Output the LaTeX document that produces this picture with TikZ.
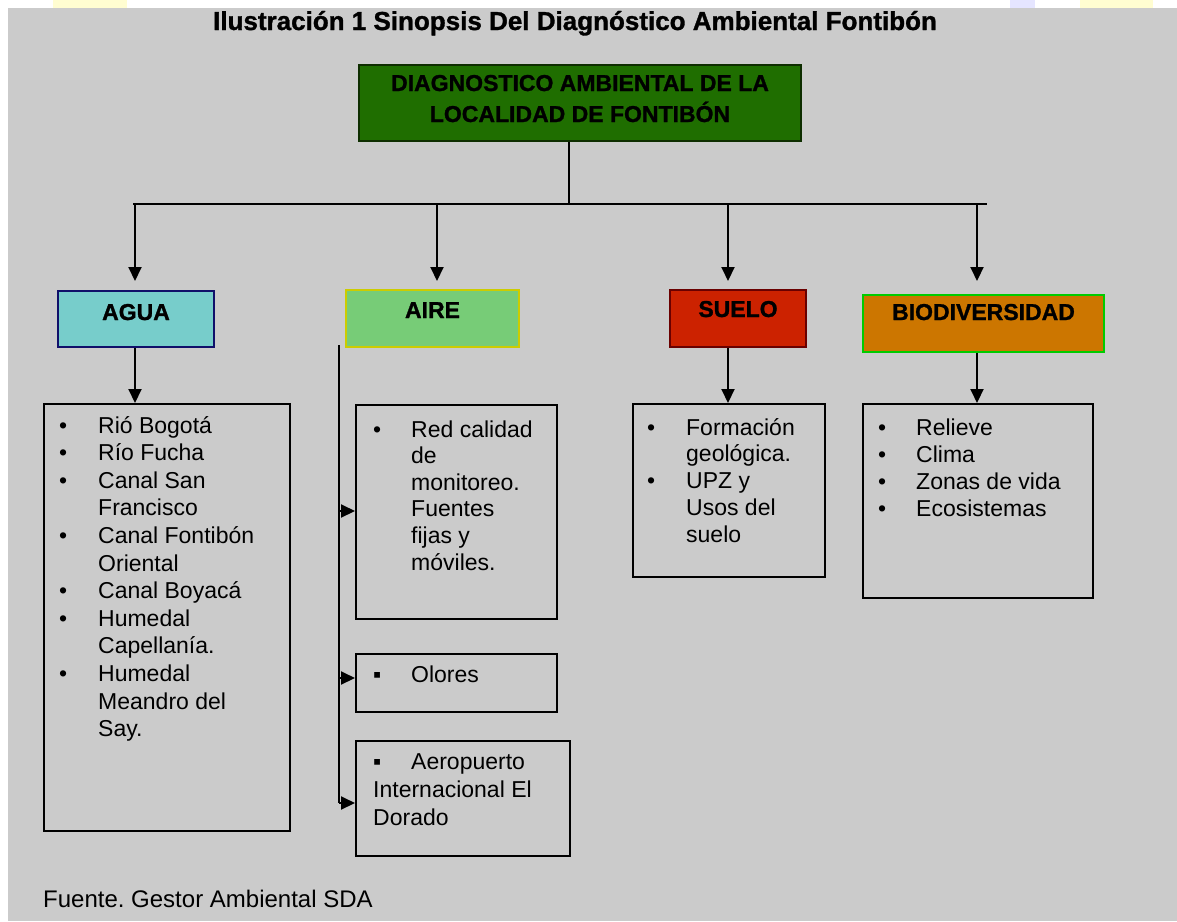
\documentclass[tikz,border=0pt]{standalone}
\usepackage{fontspec}
\setmainfont{Liberation Sans}[BoldFeatures={FakeBold=1.2}]
\usetikzlibrary{arrows.meta}
\definecolor{bg}{HTML}{CBCBCB}
\definecolor{mainF}{HTML}{1F6E00}
\definecolor{mainD}{HTML}{0E2E00}
\definecolor{aguaF}{HTML}{77CDCB}
\definecolor{aguaD}{HTML}{10106A}
\definecolor{aireF}{HTML}{77CC77}
\definecolor{aireD}{HTML}{CCCC00}
\definecolor{sueloF}{HTML}{CC2200}
\definecolor{sueloD}{HTML}{6A0000}
\definecolor{bioF}{HTML}{CC7600}
\definecolor{bioD}{HTML}{00CC00}
\begin{document}
\frenchspacing
\begin{tikzpicture}[x=1pt,y=-1pt,
  hdr/.style={anchor=north west, inner sep=0pt, line width=2pt, text height=17pt,
    font=\fontsize{23}{27}\selectfont\bfseries},
  lbox/.style={anchor=north west, inner sep=0pt, draw=black, line width=2pt},
  items/.style={anchor=base west, inner sep=0pt, align=left},
  ln/.style={line width=2pt, draw=black},
  arr/.style={ln, -{Triangle[length=14pt,width=13pt]}}]
\useasboundingbox (0,0) rectangle (1177,921);
\fill[white] (0,0) rectangle (1177,921);
\fill[yellow!18!white] (53,0) rectangle (127,8);
\fill[blue!10!white] (1010,0) rectangle (1035,8);
\fill[yellow!18!white] (1080,0) rectangle (1153,8);
\fill[bg] (8,8) rectangle (1177,921);

% title
\node[anchor=base, inner sep=0pt] (title) at (575,30)
  {\fontsize{26}{30}\selectfont\bfseries Ilustración 1 Sinopsis Del Diagnóstico Ambiental Fontibón};

% main box
\node[anchor=north west, inner sep=0pt, fill=mainF, draw=mainD, line width=2pt,
  minimum width=442pt, minimum height=76pt, text height=20pt, text depth=44pt] (main) at (358,64)
  {\fontsize{23}{31}\selectfont\bfseries\begin{tabular}[t]{@{}c@{}}DIAGNOSTICO AMBIENTAL DE LA\\LOCALIDAD DE FONTIBÓN\end{tabular}};

% header boxes
\node[hdr, fill=aguaF, draw=aguaD, minimum width=156pt, minimum height=56pt, text depth=15pt] (agua) at (57,290) {AGUA};
\node[hdr, fill=aireF, draw=aireD, minimum width=173pt, minimum height=57pt, text depth=18pt] (aire) at (345,289) {AIRE};
\node[hdr, fill=sueloF, draw=sueloD, minimum width=136pt, minimum height=57pt, text depth=20pt] (suelo) at (669,289) {SUELO};
\node[hdr, fill=bioF, draw=bioD, minimum width=241pt, minimum height=57pt, text depth=24pt] (bio) at (862,294) {BIODIVERSIDAD};

% list boxes
\node[lbox, minimum width=246pt, minimum height=427pt] (agualist) at (43,403) {};
\node[lbox, minimum width=201pt, minimum height=214pt] (aire1) at (355,404) {};
\node[lbox, minimum width=201pt, minimum height=58pt] (aire2) at (355,653) {};
\node[lbox, minimum width=214pt, minimum height=115pt] (aire3) at (355,740) {};
\node[lbox, minimum width=192pt, minimum height=173pt] (suelolist) at (632,403) {};
\node[lbox, minimum width=230pt, minimum height=194pt] (biolist) at (862,403) {};

% list texts
\node[items] (aguaitems) at (59,433) {\fontsize{23}{27.6}\selectfont
  \begin{tabular}[t]{@{}p{39pt}@{}l@{}}
  • & Rió Bogotá\\
  • & Río Fucha\\
  • & Canal San\\
    & Francisco\\
  • & Canal Fontibón\\
    & Oriental\\
  • & Canal Boyacá\\
  • & Humedal\\
    & Capellanía.\\
  • & Humedal\\
    & Meandro del\\
    & Say.
  \end{tabular}};
\node[items] (aire1items) at (373,437) {\fontsize{23}{26.6}\selectfont
  \begin{tabular}[t]{@{}p{38pt}@{}l@{}}
  • & Red calidad\\
    & de\\
    & monitoreo.\\
    & Fuentes\\
    & fijas y\\
    & móviles.
  \end{tabular}};
\node[items] (aire2items) at (373,682) {\fontsize{23}{28}\selectfont\makebox[38pt][l]{▪}Olores};
\node[items] (aire3items) at (373,769) {\fontsize{23}{28}\selectfont
  \begin{tabular}[t]{@{}l@{}}
  \makebox[38pt][l]{▪}Aeropuerto\\
  Internacional El\\
  Dorado
  \end{tabular}};
\node[items] (sueloitems) at (647,435) {\fontsize{23}{26.8}\selectfont
  \begin{tabular}[t]{@{}p{39pt}@{}l@{}}
  • & Formación\\
    & geológica.\\
  • & UPZ y\\
    & Usos del\\
    & suelo
  \end{tabular}};
\node[items] (bioitems) at (878,435) {\fontsize{23}{27.3}\selectfont
  \begin{tabular}[t]{@{}p{38pt}@{}l@{}}
  • & Relieve\\
  • & Clima\\
  • & Zonas de vida\\
  • & Ecosistemas
  \end{tabular}};

% footer
\node[anchor=base west, inner sep=0pt] (footer) at (43,907)
  {\fontsize{24}{28}\selectfont Fuente. Gestor Ambiental SDA};

% connectors
\coordinate (bus) at (569,204);
\coordinate (busL) at (133,204);
\coordinate (busR) at (987,204);
\coordinate (cA) at (135,204);
\coordinate (cB) at (437,204);
\coordinate (cC) at (728,204);
\coordinate (cD) at (977,204);
\coordinate (tip) at (0,281);
\draw[ln] (main.south -| bus) -- (bus);
\draw[ln] (busL) -- (busR);
\draw[arr] (cA) -- (cA |- tip);
\draw[arr] (cB) -- (cB |- tip);
\draw[arr] (cC) -- (cC |- tip);
\draw[arr] (cD) -- (cD |- tip);

\draw[arr] (cA |- agua.south) -- (cA |- agualist.north);
\draw[arr] (cC |- suelo.south) -- (cC |- suelolist.north);
\draw[arr] (cD |- bio.south) -- (cD |- biolist.north);

\coordinate (airetop) at (339,345);
\coordinate (s1) at (339,511);
\coordinate (s2) at (339,678);
\coordinate (s3) at (339,803);
\draw[ln] (airetop) -- (s3);
\draw[arr] (s1) -- (s1 -| aire1.west);
\draw[arr] (s2) -- (s2 -| aire2.west);
\draw[arr] (s3) -- (s3 -| aire3.west);
\end{tikzpicture}
\end{document}
